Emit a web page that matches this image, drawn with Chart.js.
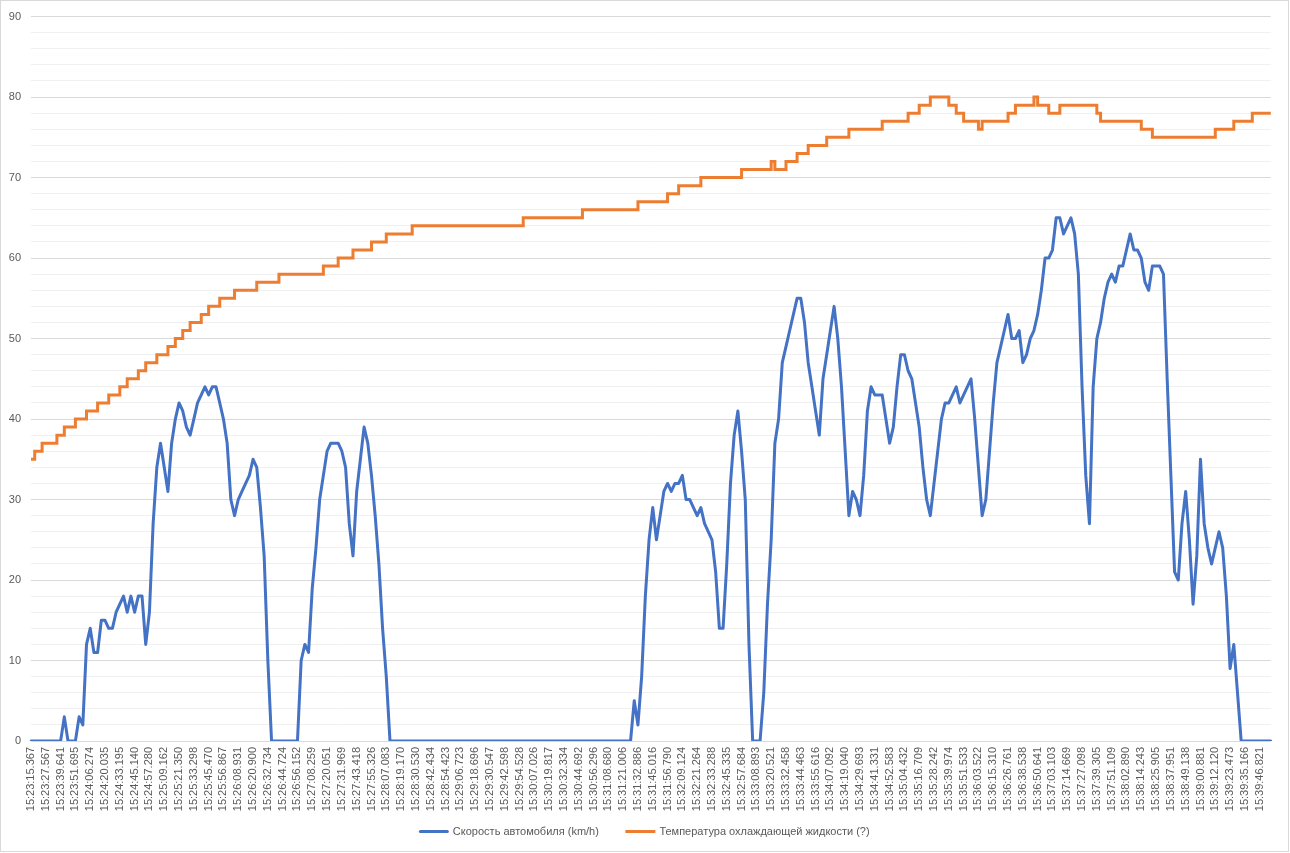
<!DOCTYPE html>
<html><head><meta charset="utf-8">
<script src="https://cdn.jsdelivr.net/npm/chart.js@4.4.0/dist/chart.umd.min.js"></script>
<style>html,body{margin:0;padding:0;background:#fff;}canvas{display:block;}</style>
</head><body>
<canvas id="c" width="1290" height="853"></canvas>
<script>
const tickLabels = ["15:23:15.367","15:23:27.567","15:23:39.641","15:23:51.695","15:24:06.274","15:24:20.035","15:24:33.195","15:24:45.140","15:24:57.280","15:25:09.162",
"15:25:21.350","15:25:33.298","15:25:45.470","15:25:56.867","15:26:08.931","15:26:20.900","15:26:32.734","15:26:44.724","15:26:56.152","15:27:08.259",
"15:27:20.051","15:27:31.969","15:27:43.418","15:27:55.326","15:28:07.083","15:28:19.170","15:28:30.530","15:28:42.434","15:28:54.423","15:29:06.723",
"15:29:18.696","15:29:30.547","15:29:42.598","15:29:54.528","15:30:07.026","15:30:19.817","15:30:32.334","15:30:44.692","15:30:56.296","15:31:08.680",
"15:31:21.006","15:31:32.886","15:31:45.016","15:31:56.790","15:32:09.124","15:32:21.264","15:32:33.288","15:32:45.335","15:32:57.684","15:33:08.893",
"15:33:20.521","15:33:32.458","15:33:44.463","15:33:55.616","15:34:07.092","15:34:19.040","15:34:29.693","15:34:41.331","15:34:52.583","15:35:04.432",
"15:35:16.709","15:35:28.242","15:35:39.974","15:35:51.533","15:36:03.522","15:36:15.310","15:36:26.761","15:36:38.538","15:36:50.641","15:37:03.103",
"15:37:14.669","15:37:27.098","15:37:39.305","15:37:51.109","15:38:02.890","15:38:14.243","15:38:25.905","15:38:37.951","15:38:49.138","15:39:00.881",
"15:39:12.120","15:39:23.473","15:39:35.166","15:39:46.821"];

// Скорость автомобиля (km/h)
const speed = [
0,0,0,0,0,0,0,0,0,3,
0,0,0,3,2,12,14,11,11,15,
15,14,14,16,17,18,16,18,16,18,
18,12,16,27,34,37,34,31,37,40,
42,41,39,38,40,42,43,44,43,44,
44,42,40,37,30,28,30,31,32,33,
35,34,29,23,10,0,0,0,0,0,
0,0,0,10,12,11,19,24,30,33,
36,37,37,37,36,34,27,23,31,35,
39,37,33,28,22,14,8,0,0,0,
0,0,0,0,0,0,0,0,0,0,
0,0,0,0,0,0,0,0,0,0,
0,0,0,0,0,0,0,0,0,0,
0,0,0,0,0,0,0,0,0,0,
0,0,0,0,0,0,0,0,0,0,
0,0,0,0,0,0,0,0,0,0,
0,0,0,5,2,8,18,25,29,25,
28,31,32,31,32,32,33,30,30,29,
28,29,27,26,25,21,14,14,22,32,
38,41,36,30,12,0,0,0,6,17,
25,37,40,47,49,51,53,55,55,52,
47,44,41,38,45,48,51,54,50,44,
36,28,31,30,28,33,41,44,43,43,
43,40,37,39,44,48,48,46,45,42,
39,34,30,28,32,36,40,42,42,43,
44,42,43,44,45,40,34,28,30,36,
42,47,49,51,53,50,50,51,47,48,
50,51,53,56,60,60,61,65,65,63,
64,65,63,58,44,33,27,44,50,52,
55,57,58,57,59,59,61,63,61,61,
60,57,56,59,59,59,58,45,33,21,
20,27,31,25,17,23,35,27,24,22,
24,26,24,18,9,12,6,0,0,0,
0,0,0,0,0,0];

// Температура охлаждающей жидкости (?)
const coolant = [
35,36,36,37,37,37,37,38,38,39,
39,39,40,40,40,41,41,41,42,42,
42,43,43,43,44,44,45,45,45,46,
46,47,47,47,48,48,48,49,49,50,
50,51,51,52,52,52,53,53,54,54,
54,55,55,55,55,56,56,56,56,56,
56,57,57,57,57,57,57,58,58,58,
58,58,58,58,58,58,58,58,58,59,
59,59,59,60,60,60,60,61,61,61,
61,61,62,62,62,62,63,63,63,63,
63,63,63,64,64,64,64,64,64,64,
64,64,64,64,64,64,64,64,64,64,
64,64,64,64,64,64,64,64,64,64,
64,64,64,65,65,65,65,65,65,65,
65,65,65,65,65,65,65,65,65,66,
66,66,66,66,66,66,66,66,66,66,
66,66,66,66,67,67,67,67,67,67,
67,67,68,68,68,69,69,69,69,69,
69,70,70,70,70,70,70,70,70,70,
70,70,71,71,71,71,71,71,71,71,
72,71,71,71,72,72,72,73,73,73,
74,74,74,74,74,75,75,75,75,75,
75,76,76,76,76,76,76,76,76,76,
77,77,77,77,77,77,77,78,78,78,
79,79,79,80,80,80,80,80,79,79,
78,78,77,77,77,77,76,77,77,77,
77,77,77,77,78,78,79,79,79,79,
79,80,79,79,79,78,78,78,79,79,
79,79,79,79,79,79,79,79,78,77,
77,77,77,77,77,77,77,77,77,77,
76,76,76,75,75,75,75,75,75,75,
75,75,75,75,75,75,75,75,75,75,
76,76,76,76,76,77,77,77,77,77,
78,78,78,78,78,78];

const seriesNames = ['Скорость автомобиля (km/h)', 'Температура охлаждающей жидкости (?)'];
const samplesPerTick = 4;
const categories = speed.map((_, i) => (i % samplesPerTick === 0 && tickLabels[i / samplesPerTick]) ? tickLabels[i / samplesPerTick] : '');

const FONT = '"Liberation Sans", Arial, sans-serif';
const bgPlugin = {
  id: 'bg',
  beforeDraw(chart) {
    const c = chart.ctx; c.save();
    c.fillStyle = '#ffffff'; c.fillRect(0, 0, chart.width, chart.height);
    c.strokeStyle = '#d9d9d9'; c.lineWidth = 1;
    c.strokeRect(0.5, 0.5, chart.width - 2, chart.height - 2);
    c.restore();
  }
};

new Chart(document.getElementById('c'), {
  type: 'line',
  data: {
    labels: categories,
    datasets: [
      { label: seriesNames[0], data: speed, borderColor: '#4472C4', backgroundColor: '#4472C4',
        borderWidth: 3, pointRadius: 0, tension: 0, borderJoinStyle: 'round', borderCapStyle: 'round', yAxisID: 'y' },
      { label: seriesNames[1], data: coolant, borderColor: '#ED7D31', backgroundColor: '#ED7D31',
        borderWidth: 3, pointRadius: 0, tension: 0, stepped: true, yAxisID: 'y' }
    ]
  },
  options: {
    responsive: false, animation: false, devicePixelRatio: 1,
    layout: { padding: { left: 0, right: 0, top: 15, bottom: 6 } },
    plugins: {
      legend: { position: 'bottom',
        labels: { boxWidth: 27, boxHeight: 0.001, padding: 28, color: '#595959', font: { family: FONT, size: 11 } } },
      tooltip: { enabled: false }
    },
    scales: {
      x: {
        grid: { display: false, drawTicks: false }, border: { display: false },
        ticks: { autoSkip: false, minRotation: 90, maxRotation: 90, padding: 6, color: '#595959', font: { family: FONT, size: 11 },
          callback: (v, i) => categories[i] },
        afterFit: s => { s.height = 57; s._computeLabelArea = () => null; }
      },
      y: {
        min: 0, max: 90,
        grid: { drawTicks: false, color: c => (c.tick && c.tick.value % 10 === 0) ? '#d9d9d9' : '#f0f0f0' },
        border: { display: false },
        ticks: { stepSize: 2, autoSkip: false, maxTicksLimit: 100, padding: 10, color: '#595959', font: { family: FONT, size: 11 },
          callback: v => (v % 10 === 0 ? String(v) : '') },
        afterFit: s => { s.width = 31; }
      },
      gutter: {
        position: 'right', min: 0, max: 90,
        grid: { display: false, drawTicks: false }, border: { display: false },
        ticks: { display: false },
        afterFit: s => { s.width = 14; }
      }
    }
  },
  plugins: [bgPlugin]
});
</script>
</body></html>
